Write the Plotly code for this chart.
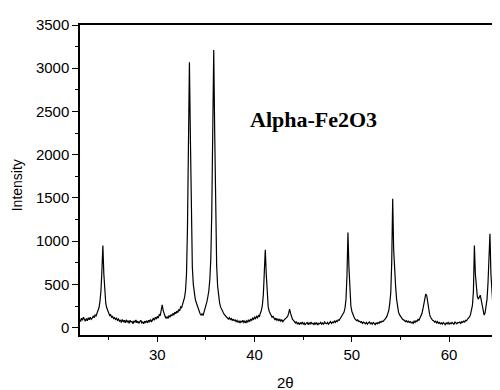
import numpy as np
import plotly.graph_objects as go

# XRD scan: 2-theta start and step (degrees)
theta_start = 22.0
theta_step = 0.1

# Intensity values, one row per degree (x.0 ... x.9)
intensity_rows = [
    [95, 70, 110, 85, 120, 90, 75, 105, 80, 115],          # 22
    [90, 120, 95, 110, 130, 115, 145, 135, 160, 190],      # 23
    [230, 300, 420, 650, 950, 620, 380, 280, 230, 190],    # 24
    [165, 140, 150, 120, 130, 105, 115, 95, 110, 85],      # 25
    [100, 75, 90, 60, 95, 70, 85, 55, 90, 65],             # 26
    [80, 50, 85, 65, 70, 45, 80, 60, 90, 55],              # 27
    [75, 50, 70, 85, 55, 65, 45, 75, 60, 80],              # 28
    [55, 85, 70, 95, 65, 90, 110, 85, 120, 105],           # 29
    [130, 110, 150, 140, 190, 265, 200, 150, 130, 110],    # 30
    [125, 105, 140, 120, 150, 135, 165, 145, 180, 160],    # 31
    [190, 175, 210, 195, 240, 230, 270, 300, 350, 430],    # 32
    [620, 1150, 2150, 3070, 2200, 1150, 700, 500, 400, 330],  # 33
    [290, 250, 215, 190, 160, 145, 160, 140, 175, 210],    # 34
    [250, 300, 360, 430, 560, 800, 1350, 2350, 3210, 2250],  # 35
    [1200, 720, 480, 360, 290, 240, 210, 185, 170, 150],   # 36
    [140, 125, 120, 100, 115, 95, 105, 85, 95, 80],        # 37
    [90, 70, 85, 60, 80, 55, 75, 65, 85, 60],              # 38
    [75, 55, 80, 65, 90, 70, 100, 85, 110, 95],            # 39
    [120, 105, 130, 115, 140, 130, 170, 200, 260, 380],    # 40
    [640, 900, 620, 360, 240, 190, 160, 140, 120, 130],    # 41
    [105, 90, 110, 85, 100, 80, 95, 75, 90, 70],           # 42
    [85, 95, 100, 115, 130, 165, 215, 165, 120, 95],       # 43
    [85, 65, 55, 70, 40, 60, 35, 55, 45, 65],              # 44
    [40, 55, 30, 50, 60, 35, 55, 40, 65, 45],              # 45
    [50, 35, 60, 40, 55, 30, 50, 45, 60, 40],              # 46
    [55, 40, 65, 50, 45, 60, 40, 55, 70, 50],              # 47
    [65, 55, 75, 60, 80, 70, 90, 85, 105, 120],            # 48
    [130, 150, 180, 230, 330, 600, 1100, 700, 380, 250],   # 49
    [190, 150, 130, 105, 95, 80, 90, 70, 75, 60],          # 50
    [70, 50, 65, 55, 45, 60, 40, 55, 65, 45],              # 51
    [55, 40, 60, 50, 35, 55, 45, 60, 50, 70],              # 52
    [60, 75, 70, 85, 95, 110, 130, 160, 200, 280],         # 53
    [400, 750, 1490, 900, 560, 480, 330, 240, 180, 150],   # 54
    [130, 115, 100, 90, 85, 70, 80, 65, 75, 60],           # 55
    [70, 55, 65, 50, 75, 60, 80, 70, 95, 85],              # 56
    [110, 130, 160, 210, 280, 350, 390, 370, 290, 200],    # 57
    [150, 120, 100, 85, 80, 65, 75, 55, 70, 50],           # 58
    [60, 45, 55, 40, 60, 50, 35, 55, 45, 60],              # 59
    [40, 55, 45, 60, 50, 40, 65, 55, 45, 60],              # 60
    [55, 65, 50, 70, 60, 75, 65, 85, 80, 100],             # 61
    [110, 125, 150, 190, 260, 420, 950, 620, 430, 360],    # 62
    [330, 350, 375, 320, 250, 190, 145, 170, 230, 330],    # 63
    [520, 800, 1085, 620, 380, 260, 190, 150, 130, 120],   # 64
    [110, 125],                                            # 65
]

intensity = [v for row in intensity_rows for v in row]
two_theta = np.round(theta_start + theta_step * np.arange(len(intensity)), 1)

x_tickvals = [30, 40, 50, 60]
y_tickvals = [0, 500, 1000, 1500, 2000, 2500, 3000, 3500]
label_text = "Alpha-Fe2O3"
x_title = "2θ"
y_title = "Intensity"

fig = go.Figure()
fig.add_trace(go.Scatter(
    x=two_theta, y=intensity, mode="lines",
    line=dict(color="black", width=1.2), showlegend=False,
))

axis_font = dict(family="Liberation Sans, Arial, sans-serif", size=15, color="black")

# page body has an 8px margin, so the figure is sized/offset to compensate
fig.update_layout(
    width=492, height=382,
    margin=dict(l=72, r=1, t=17, b=55),
    paper_bgcolor="white", plot_bgcolor="white",
    font=axis_font,
    xaxis=dict(
        range=[22.05, 65.13], tickvals=x_tickvals, automargin=False,
        showline=True, mirror=True, linecolor="black", linewidth=1.5,
        ticks="outside", ticklen=5, tickwidth=1, tickcolor="black",
        minor=dict(dtick=5, tick0=25, ticks="outside", ticklen=3, tickcolor="black"),
        showgrid=False, zeroline=False,
        tickfont=axis_font,
    ),
    yaxis=dict(
        range=[-85, 3500], tickvals=y_tickvals, automargin=False,
        showline=True, mirror=True, linecolor="black", linewidth=1.5,
        ticks="outside", ticklen=6, tickwidth=1, tickcolor="black",
        minor=dict(dtick=250, tick0=0, ticks="outside", ticklen=3, tickcolor="black"),
        showgrid=False, zeroline=False,
        tickfont=axis_font,
    ),
    annotations=[
        dict(
            text="<b>" + label_text + "</b>", xref="paper", yref="paper",
            x=0.40, y=0.694, xanchor="left", yanchor="middle", showarrow=False,
            font=dict(family="Liberation Serif, Times New Roman, serif", size=22, color="black"),
        ),
        dict(
            text=x_title, xref="paper", yref="paper",
            x=0.49, y=0, yshift=-47, xanchor="center", yanchor="middle",
            showarrow=False, font=axis_font,
        ),
        dict(
            text=y_title, xref="paper", yref="paper", textangle=-90,
            x=0, xshift=-63, y=0.483, xanchor="center", yanchor="middle",
            showarrow=False,
            font=dict(family="Liberation Sans, Arial, sans-serif", size=14, color="black"),
        ),
    ],
)

fig.write_html("out.html")
